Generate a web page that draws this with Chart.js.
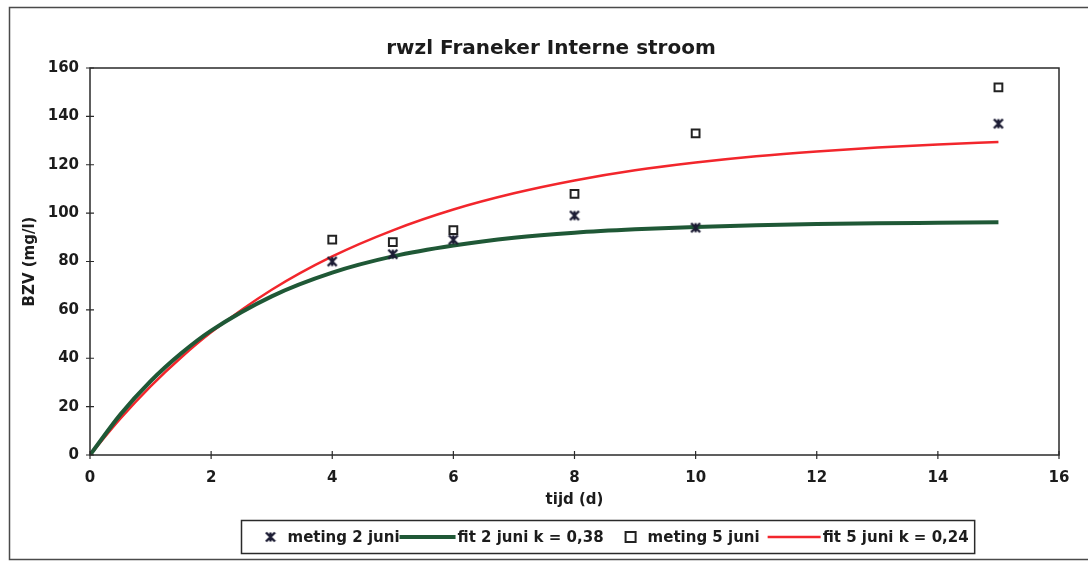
<!DOCTYPE html>
<html><head><meta charset="utf-8">
<script src="https://cdn.jsdelivr.net/npm/chart.js@4.4.0/dist/chart.umd.min.js"></script>
<style>html,body{margin:0;padding:0;background:#fff;overflow:hidden}</style>
</head><body>
<canvas id="c" width="1088" height="563" style="display:block;width:1088px;height:563px"></canvas>
<script>
// ---- data ----
const chartTitle = 'rwzl Franeker Interne stroom';
const xAxisTitle = 'tijd (d)';
const yAxisTitle = 'BZV (mg/l)';
const seriesNames = ['meting 2 juni', 'fit 2 juni k = 0,38', 'meting 5 juni', 'fit 5 juni k = 0,24'];
const tijdMeting = [4, 5, 6, 8, 10, 15];
const meting2Juni = [80, 83, 89, 99, 94, 137];
const meting5Juni = [89, 88, 93, 108, 133, 152];
const tijdFit = [0, 0.5, 1, 1.5, 2, 3, 4, 5, 6, 7, 8, 9, 10, 11, 12, 13, 14, 15];
const fit2Juni = [0, 16.7, 30.5, 41.9, 51.4, 65.6, 75.4, 82.1, 86.6, 89.8, 91.9, 93.3, 94.3, 95.0, 95.5, 95.8, 96.0, 96.2];
const fit5Juni = [0, 15.0, 28.4, 40.2, 50.7, 68.3, 82.1, 92.9, 101.5, 108.2, 113.5, 117.7, 120.9, 123.5, 125.5, 127.1, 128.4, 129.4];
const xRange = [0, 16], xStep = 2;
const yRange = [0, 160], yStep = 20;

// ---- styles ----
const FONT = 'DejaVu Sans';
const INK = '#1c1c1c';
const GREEN = '#1f5836';
const RED = '#f2262c';
const STAR_COL = '#1c1c34';

function makeStar(size, col) {
  const c = document.createElement('canvas');
  c.width = size; c.height = size;
  const g = c.getContext('2d');
  g.strokeStyle = col; g.lineWidth = 2.4; g.lineCap = 'butt';
  const m = 1.5, s = size - 1.5;
  g.beginPath();
  g.moveTo(m, m); g.lineTo(s, s);
  g.moveTo(s, m); g.lineTo(m, s);
  g.moveTo(size / 2, m); g.lineTo(size / 2, s);
  g.stroke();
  return c;
}
const starImg = makeStar(12, STAR_COL);

const toXY = (xs, ys) => xs.map((x, i) => ({x: x, y: ys[i]}));

Chart.defaults.font.family = FONT;
Chart.defaults.font.weight = 'bold';
Chart.defaults.color = INK;

const bgPlugin = {
  id: 'bg',
  beforeDraw(chart) {
    const ctx = chart.ctx;
    ctx.save();
    ctx.fillStyle = '#ffffff';
    ctx.fillRect(0, 0, chart.width, chart.height);
    ctx.restore();
  },
  afterDraw(chart) {
    const ctx = chart.ctx, a = chart.chartArea;
    ctx.save();
    // outer frame
    ctx.strokeStyle = '#4a4a4a'; ctx.lineWidth = 1.5;
    ctx.strokeRect(9.5, 7.5, chart.width + 20, 552);
    // title
    ctx.fillStyle = INK;
    ctx.font = 'bold 20px ' + FONT;
    ctx.textAlign = 'center'; ctx.textBaseline = 'middle';
    ctx.fillText(chartTitle, 551, 49);
    // plot frame
    ctx.strokeStyle = '#2a2a2a'; ctx.lineWidth = 1.5;
    ctx.strokeRect(a.left, a.top, a.right - a.left, a.bottom - a.top);
    // crossing tick marks
    ctx.lineWidth = 1.2;
    const xs = chart.scales.x, ys = chart.scales.y;
    ctx.beginPath();
    xs.ticks.forEach(t => { const p = xs.getPixelForValue(t.value); ctx.moveTo(p, a.bottom - 4); ctx.lineTo(p, a.bottom + 4); });
    ys.ticks.forEach(t => { const p = ys.getPixelForValue(t.value); ctx.moveTo(a.left - 4, p); ctx.lineTo(a.left + 4, p); });
    ctx.stroke();
    ctx.restore();
  }
};

const legendPlugin = {
  id: 'boxLegend',
  afterDraw(chart) {
    const ctx = chart.ctx;
    const ds = chart.data.datasets;
    ctx.save();
    ctx.font = 'bold 15px ' + FONT;
    ctx.textBaseline = 'middle';
    ctx.textAlign = 'left';
    ctx.fillStyle = INK;
    const spec = [
      {symW: 14, gap: 10, after: 0},
      {symW: 56, gap: 2, after: 20},
      {symW: 14, gap: 10, after: 8},
      {symW: 53, gap: 2, after: 0}
    ];
    const padL = 22, padR = 6;
    let total = padL + padR;
    spec.forEach((s, i) => { total += s.symW + s.gap + ctx.measureText(ds[i].label).width + s.after; });
    const cx = 608, top = 520.5, h = 33, cy = top + h / 2;
    const left = Math.round(cx - total / 2) + 0.5;
    ctx.strokeStyle = '#2a2a2a'; ctx.lineWidth = 1.5;
    ctx.strokeRect(left, top, total, h);
    let x = left + padL;
    spec.forEach((s, i) => {
      const d = ds[i];
      if (d.showLine) {
        ctx.strokeStyle = d.borderColor; ctx.lineWidth = d.borderWidth;
        ctx.beginPath(); ctx.moveTo(x, cy); ctx.lineTo(x + s.symW, cy); ctx.stroke();
      } else if (d.pointStyle === 'rect') {
        ctx.fillStyle = '#fff'; ctx.strokeStyle = d.borderColor; ctx.lineWidth = 2;
        ctx.fillRect(x + 2, cy - 5, 10, 10); ctx.strokeRect(x + 2, cy - 5, 10, 10);
      } else {
        ctx.drawImage(d.pointStyle, x + 1, cy - 6);
      }
      x += s.symW + s.gap;
      ctx.fillStyle = INK;
      ctx.fillText(d.label, x, cy + 1);
      x += ctx.measureText(d.label).width + s.after;
    });
    ctx.restore();
  }
};

new Chart(document.getElementById('c'), {
  type: 'scatter',
  data: {
    datasets: [
      {label: seriesNames[0], data: toXY(tijdMeting, meting2Juni), showLine: false,
       pointStyle: starImg, pointRadius: 6, borderColor: STAR_COL, backgroundColor: STAR_COL},
      {label: seriesNames[1], data: toXY(tijdFit, fit2Juni), showLine: true, borderColor: GREEN,
       borderWidth: 4, pointRadius: 0, cubicInterpolationMode: 'monotone', fill: false},
      {label: seriesNames[2], data: toXY(tijdMeting, meting5Juni), showLine: false,
       pointStyle: 'rect', pointRadius: 5.5, borderWidth: 2, borderColor: '#222', backgroundColor: '#fff'},
      {label: seriesNames[3], data: toXY(tijdFit, fit5Juni), showLine: true, borderColor: RED,
       borderWidth: 2.5, pointRadius: 0, cubicInterpolationMode: 'monotone', fill: false}
    ]
  },
  options: {
    responsive: false,
    animation: false,
    layout: {padding: {left: 10, right: 29, top: 68, bottom: 52}},
    plugins: {
      legend: {display: false},
      tooltip: {enabled: false},
      title: {display: false}
    },
    scales: {
      x: {
        type: 'linear', min: xRange[0], max: xRange[1],
        ticks: {stepSize: xStep, padding: 14, color: INK, font: {size: 15, weight: 'bold'}, maxRotation: 0},
        grid: {display: false, drawTicks: false},
        border: {display: false},
        title: {display: true, text: xAxisTitle, color: INK, font: {size: 15, weight: 'bold'}, padding: {top: 0, bottom: 2}},
        afterFit(s) { s.height = 56; }
      },
      y: {
        type: 'linear', min: yRange[0], max: yRange[1],
        ticks: {stepSize: yStep, padding: 11, color: INK, font: {size: 15, weight: 'bold'}},
        grid: {display: false, drawTicks: false},
        border: {display: false},
        title: {display: true, text: yAxisTitle, color: INK, font: {size: 15, weight: 'bold'}, padding: {top: 11, bottom: 0}},
        afterFit(s) { s.width = 80; }
      }
    }
  },
  plugins: [bgPlugin, legendPlugin]
});
</script>
</body></html>
